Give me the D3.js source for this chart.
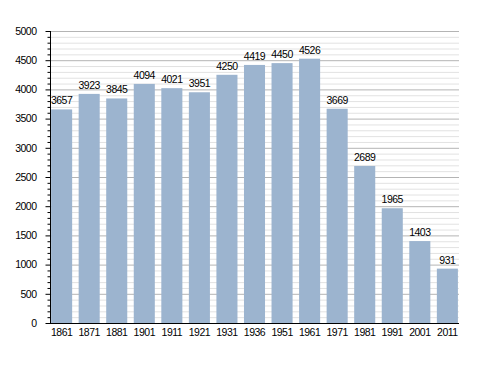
<!DOCTYPE html>
<html>
<head>
<meta charset="utf-8">
<script src="https://cdn.jsdelivr.net/npm/d3@7"></script>
<style>
  body { margin: 0; background: #fff; }
  text { font-family: "Liberation Sans", Arial, sans-serif; font-size: 10.5px; letter-spacing: -0.5px; fill: #000; }
</style>
</head>
<body>
<svg id="chart" width="488" height="373"></svg>
<script>
// census years and population
const years = ["1861", "1871", "1881", "1901", "1911", "1921", "1931", "1936",
  "1951", "1961", "1971", "1981", "1991", "2001", "2011"];
const population = [3657, 3923, 3845, 4094, 4021, 3951, 4250, 4419,
  4450, 4526, 3669, 2689, 1965, 1403, 931];
const yTicks = [0, 500, 1000, 1500, 2000, 2500, 3000, 3500, 4000, 4500, 5000];

const LEFT = 50;
const RIGHT = 459;
const TOP = 31;
const BOTTOM = 323;

const svg = d3.select("#chart");

const x = d3.scaleBand()
  .domain(years)
  .range([LEFT, RIGHT])
  .paddingInner(0.236)
  .paddingOuter(0.04);

const y = d3.scaleLinear().domain([0, 5000]).range([BOTTOM, TOP]);

// minor grid every 100, major every 500
const minor = d3.range(100, 5001, 100).filter((v) => v % 500 !== 0);
svg.append("g")
  .selectAll("line")
  .data(minor)
  .join("line")
  .attr("x1", LEFT).attr("x2", RIGHT)
  .attr("y1", (d) => y(d) + 0.5).attr("y2", (d) => y(d) + 0.5)
  .attr("stroke", "#e2e2e2");

svg.append("g")
  .selectAll("line")
  .data(yTicks.slice(1))
  .join("line")
  .attr("x1", LEFT).attr("x2", RIGHT)
  .attr("y1", (d) => y(d) + 0.5).attr("y2", (d) => y(d) + 0.5)
  .attr("stroke", "#b4b4b4");

// bars
svg.append("g")
  .selectAll("rect")
  .data(population)
  .join("rect")
  .attr("x", (d, i) => x(years[i]))
  .attr("y", (d) => y(d))
  .attr("width", x.bandwidth())
  .attr("height", (d) => y(0) - y(d))
  .attr("fill", "#9cb4cf");

// value labels
svg.append("g")
  .selectAll("text")
  .data(population)
  .join("text")
  .attr("x", (d, i) => x(years[i]) + x.bandwidth() / 2)
  .attr("y", (d) => y(d) - 5)
  .attr("text-anchor", "middle")
  .text((d) => d);

// y axis with minor ticks
const yAxis = svg.append("g").attr("transform", `translate(${LEFT + 0.5},0)`);
yAxis.call(d3.axisLeft(y).tickValues(yTicks).tickFormat(d3.format("d"))
    .tickSize(5).tickPadding(9))
  .call((g) => g.select(".domain").remove());
yAxis.selectAll(".tick line").attr("stroke", "#000");
yAxis.selectAll(".tick text")
  .attr("font-family", null)
  .attr("font-size", null)
  .attr("fill", "#000");
yAxis.append("g")
  .selectAll("line")
  .data(minor)
  .join("line")
  .attr("x1", -3).attr("x2", 0)
  .attr("y1", (d) => y(d) + 0.5).attr("y2", (d) => y(d) + 0.5)
  .attr("stroke", "#000");
yAxis.append("line")
  .attr("y1", TOP).attr("y2", BOTTOM + 1)
  .attr("stroke", "#000");

// x axis
const xAxis = svg.append("g").attr("transform", `translate(0,${BOTTOM + 0.5})`);
xAxis.call(d3.axisBottom(x).tickSize(0).tickPadding(5))
  .call((g) => g.select(".domain").remove());
xAxis.selectAll(".tick text")
  .attr("font-family", null)
  .attr("font-size", null)
  .attr("fill", "#000");
xAxis.append("line")
  .attr("x1", LEFT).attr("x2", RIGHT)
  .attr("stroke", "#000");
</script>
</body>
</html>
